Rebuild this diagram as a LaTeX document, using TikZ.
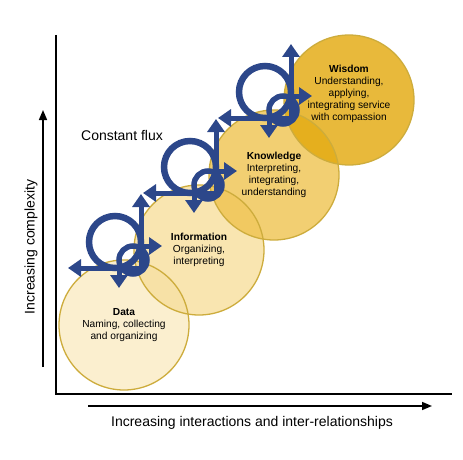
\documentclass[tikz,border=0pt]{standalone}
\usepackage{fontspec}
\setmainfont{Liberation Sans}
\usetikzlibrary{arrows.meta, calc}

\definecolor{fluxblue}{RGB}{44,71,138}
\definecolor{datafill}{RGB}{250,235,195}
\definecolor{infofill}{RGB}{247,222,156}
\definecolor{knowfill}{RGB}{239,195,79}
\definecolor{wisefill}{RGB}{226,168,10}
\definecolor{stageline}{RGB}{205,172,60}

\begin{document}
\begin{tikzpicture}[
    x=1pt, y=-1pt,
    stage/.style={circle, minimum size=130pt, inner sep=0pt, fill opacity=0.8},
    stageedge/.style={draw=stageline, line width=1.3pt},
    stagetext/.style={align=center, font=\fontsize{10.2}{12}\selectfont},
    bigtext/.style={font=\fontsize{14}{16}\selectfont},
    axisarrow/.style={-{Triangle[length=10pt,width=8pt]}, line width=1.5pt},
    fluxring/.style={draw=fluxblue, line width=6.5pt},
    fluxsmall/.style={draw=fluxblue, line width=5.5pt},
    fluxtip/.style={-{Triangle[length=13pt,width=17pt]}},
    fluxarrow/.style={draw=fluxblue, line width=5pt, fluxtip}
]
\useasboundingbox (0,0) rectangle (463,460);

% Stages
\node[stage, fill=datafill] (data) at (124,325) {};
\node[stage, fill=infofill] (info) at (199,250) {};
\node[stage, fill=knowfill] (know) at (274,175) {};
\node[stage, fill=wisefill] (wisdom) at (349,100) {};
\foreach \s in {data,info,know,wisdom}
  \draw[stageedge] (\s.center) circle[radius=65pt];

\node[stagetext] (datatext) at (data.center) {\textbf{Data}\\Naming, collecting\\and organizing};
\node[stagetext] (infotext) at (info.center) {\textbf{Information}\\Organizing,\\interpreting};
\node[stagetext] (knowtext) at (know.center) {\textbf{Knowledge}\\Interpreting,\\integrating,\\understanding};
\node[stagetext, yshift=6pt] (wisdomtext) at (wisdom.center) {\textbf{Wisdom}\\Understanding,\\applying,\\integrating service\\with compassion};

% Flux loops
\foreach \s in {data,info,know} {
  \begin{scope}[shift={(\s.center)}]
    \coordinate (\s-corner) at (17,-57);
    \coordinate (\s-left) at (-56,-57);
    \coordinate (\s-up) at (17,-131);
    \draw[fluxring] (-9,-83) circle[radius=26pt];
    \draw[fluxarrow, {Triangle[length=13pt,width=17pt]}-{Triangle[length=13pt,width=17pt]}, line join=miter]
      (\s-left) -- (\s-corner) -- (\s-up);
    \draw[fluxsmall] (9,-65) circle[radius=14pt];
    \draw[fluxarrow] (9,-79) -- (38,-79);
    \draw[fluxarrow] (-5,-65) -- (-5,-37);
  \end{scope}
}

\node[bigtext] (flux) at (122,135) {Constant flux};

% Axes
\coordinate (ytop) at (56,35);
\coordinate (xend) at (452,394);
\draw[line width=1.5pt] (ytop) |- (xend);

\coordinate (xarrowstart) at (88,406);
\coordinate (xarrowend) at (432,406);
\draw[axisarrow] (xarrowstart) -- (xarrowend);
\node[bigtext] (xlabel) at (252,423) {Increasing interactions and inter-relationships};

\coordinate (yarrowstart) at (43,367);
\coordinate (yarrowend) at (43,110);
\draw[axisarrow] (yarrowstart) -- (yarrowend);
\node[bigtext, rotate=90] (ylabel) at (31,247) {Increasing complexity};

\end{tikzpicture}
\end{document}
